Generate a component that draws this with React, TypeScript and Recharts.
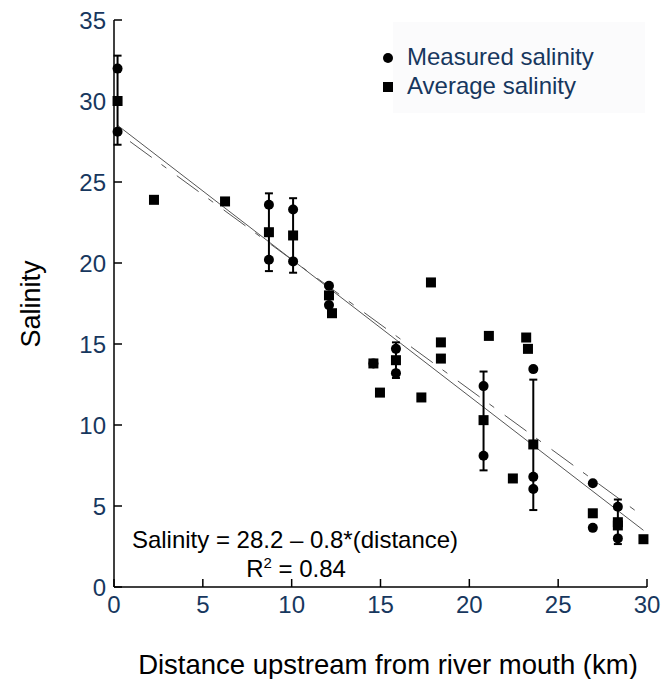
import { ScatterChart, Scatter, XAxis, YAxis, ErrorBar, ReferenceLine, Legend, Customized } from 'recharts';

const xTicks = [0, 5, 10, 15, 20, 25, 30];
const yTicks = [0, 5, 10, 15, 20, 25, 30, 35];

// measured salinity (circles)
const measuredDistance = [0.2, 0.2, 8.72, 8.72, 10.08, 10.08, 12.1, 12.1, 14.6, 15.87, 15.87, 20.8, 20.8, 23.6, 23.6, 23.6, 26.95, 26.95, 28.36, 28.36];
const measuredSalinity = [32.0, 28.1, 23.6, 20.2, 23.3, 20.1, 18.6, 17.4, 13.8, 14.7, 13.2, 12.4, 8.1, 13.45, 6.8, 6.05, 6.4, 3.65, 4.95, 3.0];

// average salinity (squares) with error bars where shown
const averageDistance = [0.2, 2.25, 6.25, 8.72, 10.08, 12.1, 12.27, 14.6, 14.97, 15.87, 17.3, 17.84, 18.4, 18.4, 20.8, 21.1, 22.45, 23.2, 23.3, 23.6, 26.95, 28.36, 28.36, 29.8];
const averageSalinity = [30.0, 23.9, 23.8, 21.9, 21.7, 18.0, 16.9, 13.8, 12.0, 14.0, 11.7, 18.8, 15.1, 14.1, 10.3, 15.5, 6.7, 15.4, 14.7, 8.8, 4.55, 4.0, 3.8, 2.95];
const averageErrDown = [2.7, null, null, 2.4, 2.3, null, null, null, null, 1.1, null, null, null, null, 3.1, null, null, null, null, 4.05, null, 1.35, null, null];
const averageErrUp = [2.8, null, null, 2.4, 2.3, null, null, null, null, 1.1, null, null, null, null, 3.0, null, null, null, null, 4.0, null, 1.4, null, null];

// fitted lines
const fitSolid = [{ x: 0.2, y: 28.5 }, { x: 29.8, y: 3.5 }];
const fitDashed = [{ x: 0.9, y: 27.5 }, { x: 29.8, y: 4.35 }];

const measuredData = measuredDistance.map((d, i) => ({ distance: d, salinity: measuredSalinity[i] }));
const averageData = averageDistance.map((d, i) => ({
  distance: d,
  salinity: averageSalinity[i],
  err: averageErrDown[i] == null ? undefined : [averageErrDown[i], averageErrUp[i]],
}));

const NAVY = '#17375e';
const FONT = '"Liberation Sans", Arial, sans-serif';

const Dot = (p: any) => <circle cx={p.cx} cy={p.cy} r={5} fill="#000" />;
const Box = (p: any) => <rect x={p.cx - 5} y={p.cy - 5} width={10} height={10} fill="#000" />;

const LegendBox = (props: any) => {
  const items = [...(props.payload ?? [])].sort((a: any) => (a.value === 'Measured salinity' ? -1 : 1));
  return (
    <svg width={270} height={95} style={{ display: 'block' }}>
      <rect x={15} y={0} width={252} height={91} fill="#fbfbfc" />
      {items.map((it: any, i: number) => {
        const cy = 36 + i * 29;
        return (
          <g key={it.value}>
            {it.value === 'Measured salinity'
              ? <circle cx={10} cy={cy} r={5} fill="#000" />
              : <rect x={5} y={cy - 5} width={10} height={10} fill="#000" />}
            <text x={29} y={cy + 7} fontSize={24} fill={NAVY} fontFamily={FONT}>{it.value}</text>
          </g>
        );
      })}
    </svg>
  );
};

const Annotation = () => (
  <g fontFamily={FONT} fontSize={24} fill="#000">
    <text x={295} y={548} textAnchor="middle">Salinity = 28.2 – 0.8*(distance)</text>
    <text x={296} y={577} textAnchor="middle">
      R<tspan dy={-9} fontSize={15}>2</tspan><tspan dy={9}> = 0.84</tspan>
    </text>
  </g>
);

export default function App() {
  const tickStyle = { fill: NAVY, fontSize: 24, fontFamily: FONT };
  return (
    <div style={{ position: 'absolute', left: 0, top: 0, fontFamily: FONT }}>
      <ScatterChart width={665} height={679} margin={{ top: 20, right: 18, bottom: 0, left: 0 }}>
        <XAxis
          dataKey="distance"
          type="number"
          domain={[0, 30]}
          ticks={xTicks}
          height={92}
          tick={tickStyle}
          tickSize={-8}
          tickMargin={17}
          stroke="#000"
          strokeWidth={1.5}
          label={{
            content: () => (
              <text x={388} y={674} textAnchor="middle" fontSize={27.5} fontFamily={FONT} fill="#000">
                Distance upstream from river mouth (km)
              </text>
            ),
          }}
        />
        <YAxis
          dataKey="salinity"
          type="number"
          domain={[0, 35]}
          ticks={yTicks}
          width={114}
          tick={tickStyle}
          tickSize={-8}
          tickMargin={16}
          stroke="#000"
          strokeWidth={1.5}
          label={{
            content: () => (
              <text x={40} y={304} transform="rotate(-90 40 304)" textAnchor="middle" fontSize={27} fontFamily={FONT} fill="#000">
                Salinity
              </text>
            ),
          }}
        />
        <XAxis xAxisId="top" orientation="top" type="number" domain={[0, 30]} ticks={xTicks} height={0} tickSize={-8} tick={() => <g />} stroke="#000" strokeWidth={1.5} />
        <YAxis yAxisId="right" orientation="right" type="number" domain={[0, 35]} ticks={yTicks} width={0} tickSize={-8} tick={() => <g />} stroke="#000" strokeWidth={1.5} />
        <ReferenceLine segment={fitSolid} stroke="#555" strokeWidth={1} ifOverflow="visible" />
        <ReferenceLine segment={fitDashed} stroke="#555" strokeWidth={1} strokeDasharray="27 12 6 13" ifOverflow="visible" />
        <Scatter name="Measured salinity" data={measuredData} shape={Dot} isAnimationActive={false} />
        <Scatter name="Average salinity" data={averageData} shape={Box} isAnimationActive={false}>
          <ErrorBar dataKey="err" direction="y" width={4} stroke="#000" strokeWidth={2} />
        </Scatter>
        <Legend
          content={LegendBox}
          layout="vertical"
          align="center"
          verticalAlign="middle"
          wrapperStyle={{ position: 'absolute', left: 378, top: 22, width: 270, height: 95 }}
        />
        <Customized component={Annotation} />
      </ScatterChart>
    </div>
  );
}
